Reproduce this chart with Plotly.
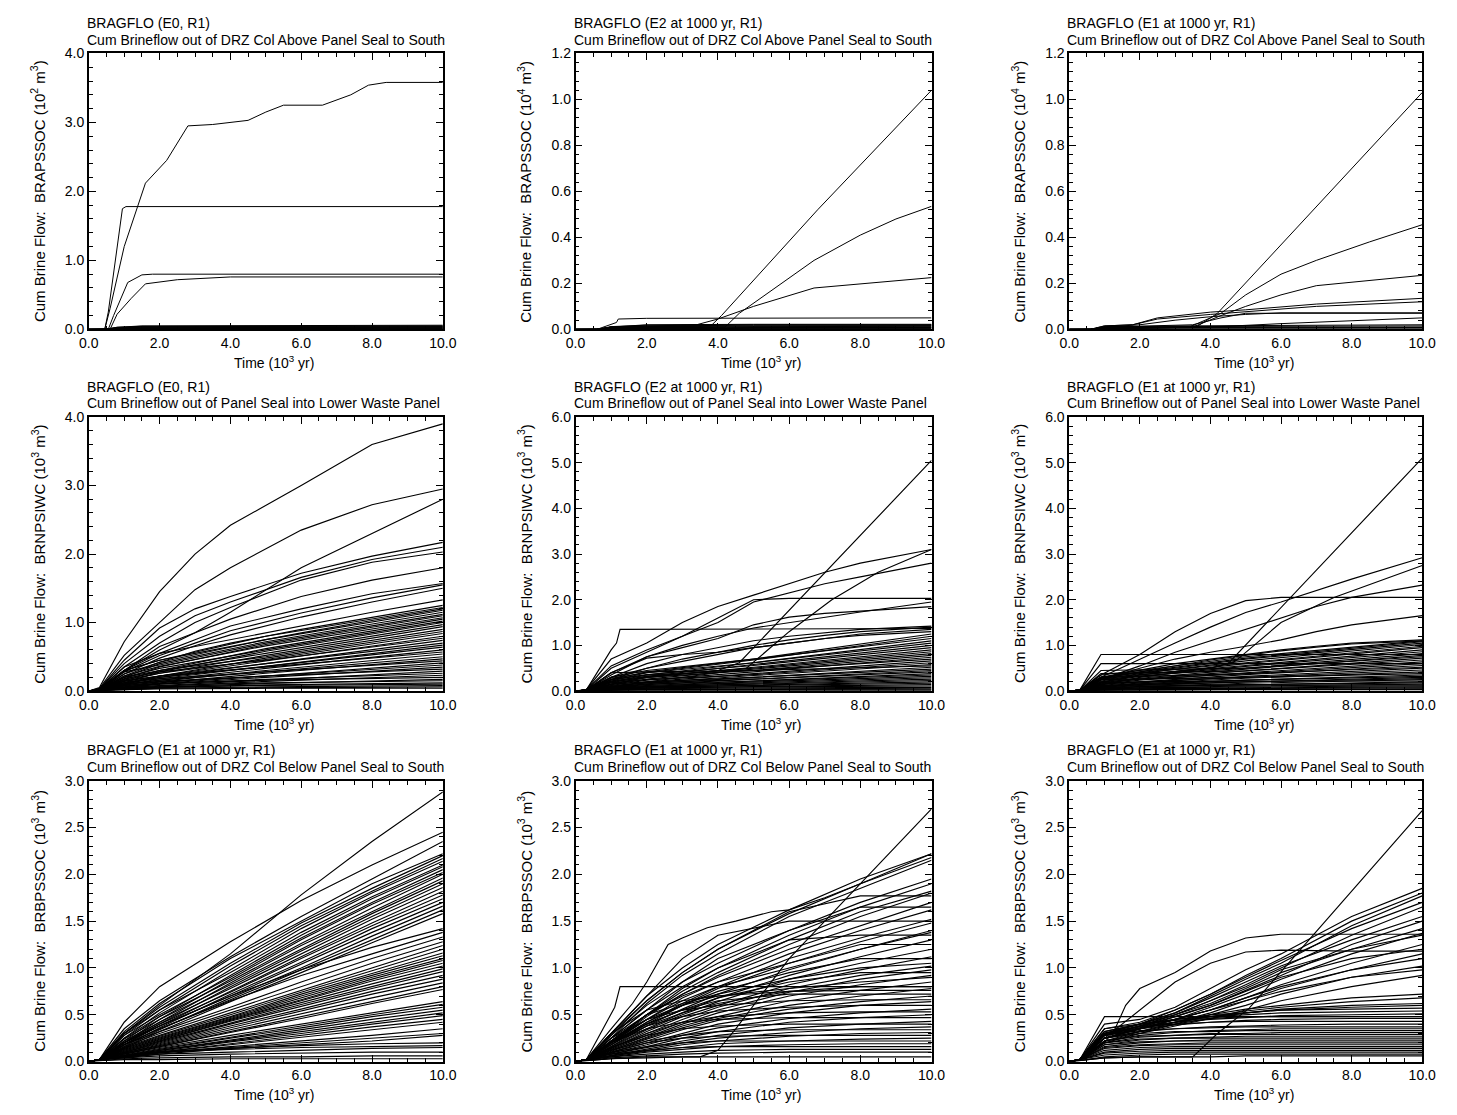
import plotly.graph_objects as go

# Reference page size; the browser keeps an 8px body margin, so the figure is 16px smaller.
PAGE_W, PAGE_H = 1457, 1115
MARGIN = 8
W, H = PAGE_W - 2 * MARGIN, PAGE_H - 2 * MARGIN

# ---------------- DATA ----------------
X_TICKS = [0, 2, 4, 6, 8, 10]

# Panel 1: E0, DRZ col above panel seal (10^2 m^3)
P1_A_T = [0, 0.45, 0.6, 1.0, 1.6, 2.2, 2.8, 3.5, 4.5, 5.0, 5.5, 6.6, 7.4, 7.9, 8.4, 10]
P1_A_V = [0, 0, 0.3, 1.2, 2.12, 2.45, 2.95, 2.97, 3.03, 3.15, 3.25, 3.25, 3.4, 3.54, 3.58, 3.58]
P1_B_T = [0, 0.45, 0.55, 0.95, 1.05, 10]
P1_B_V = [0, 0, 0.25, 1.75, 1.78, 1.78]
P1_C_T = [0, 0.55, 0.7, 1.1, 1.5, 1.8, 10]
P1_C_V = [0, 0, 0.2, 0.68, 0.79, 0.8, 0.8]
P1_D_T = [0, 0.6, 0.8, 1.2, 1.6, 2.5, 4, 10]
P1_D_V = [0, 0, 0.22, 0.45, 0.66, 0.72, 0.76, 0.76]
P1_LOW_T = [0, 0.45, 0.8, 1.5, 10]
P1_LOW = [
    [0, 0, 0.03, 0.05, 0.06], [0, 0, 0.03, 0.045, 0.05], [0, 0, 0.02, 0.04, 0.045],
    [0, 0, 0.02, 0.03, 0.04], [0, 0, 0.015, 0.025, 0.03], [0, 0, 0.01, 0.02, 0.025],
    [0, 0, 0.01, 0.015, 0.02], [0, 0, 0.005, 0.01, 0.015], [0, 0, 0.005, 0.008, 0.01],
    [0, 0, 0.003, 0.005, 0.005],
]

# Panel 2: E2, DRZ col above panel seal (10^4 m^3)
P2_A_T = [0, 0.6, 1.0, 3.8, 4.1, 6.8, 10]
P2_A_V = [0, 0, 0.01, 0.015, 0.06, 0.52, 1.04]
P2_B_T = [0, 0.6, 1, 4.2, 4.6, 6.7, 8, 9, 10]
P2_B_V = [0, 0, 0.005, 0.01, 0.07, 0.3, 0.41, 0.48, 0.535]
P2_C_T = [0, 0.6, 1, 3.4, 4, 5, 6.7, 10]
P2_C_V = [0, 0, 0.01, 0.02, 0.045, 0.1, 0.18, 0.225]
P2_D_T = [0, 0.6, 1.15, 1.2, 2, 10]
P2_D_V = [0, 0, 0.03, 0.045, 0.048, 0.05]
P2_LOW_T = [0, 0.6, 1.0, 2.0, 5.0, 10]
P2_LOW = [
    [0, 0, 0.01, 0.02, 0.022, 0.022], [0, 0, 0.012, 0.018, 0.02, 0.02],
    [0, 0, 0.008, 0.015, 0.018, 0.018], [0, 0, 0.01, 0.012, 0.015, 0.016],
    [0, 0, 0.006, 0.01, 0.012, 0.013], [0, 0, 0.005, 0.008, 0.01, 0.01],
    [0, 0, 0.004, 0.006, 0.008, 0.008], [0, 0, 0.003, 0.004, 0.005, 0.006],
    [0, 0, 0.002, 0.003, 0.004, 0.004],
]

# Panel 3: E1, DRZ col above panel seal (10^4 m^3)
P3_A_T = [0, 0.6, 1, 3.6, 4.2, 10]
P3_A_V = [0, 0, 0.01, 0.01, 0.07, 1.03]
P3_B_T = [0, 0.6, 1, 3.4, 4.3, 5, 6, 7, 8.5, 10]
P3_B_V = [0, 0, 0.01, 0.01, 0.07, 0.15, 0.24, 0.3, 0.38, 0.455]
P3_C_T = [0, 0.6, 1, 3.5, 4.3, 5, 6, 7, 10]
P3_C_V = [0, 0, 0.01, 0.01, 0.06, 0.1, 0.15, 0.19, 0.235]
P3_D_T = [0, 0.6, 1, 1.8, 2.5, 4, 5, 7, 10]
P3_D_V = [0, 0, 0.015, 0.02, 0.05, 0.075, 0.085, 0.11, 0.135]
P3_E_T = [0, 0.6, 1, 1.8, 2.5, 4, 7, 10]
P3_E_V = [0, 0, 0.015, 0.02, 0.045, 0.065, 0.1, 0.12]
P3_F_T = [0, 0.6, 1, 2, 3, 4, 5, 6, 10]
P3_F_V = [0, 0, 0.01, 0.02, 0.04, 0.055, 0.065, 0.072, 0.072]
P3_G_T = [0, 0.6, 1, 2, 3.5, 4.3, 5, 10]
P3_G_V = [0, 0, 0.01, 0.015, 0.02, 0.05, 0.07, 0.07]
P3_H_T = [0, 0.6, 1, 4, 6, 10]
P3_H_V = [0, 0, 0.005, 0.01, 0.025, 0.05]
P3_LOW_T = [0, 0.6, 1, 3, 10]
P3_LOW = [
    [0, 0, 0.01, 0.015, 0.02], [0, 0, 0.005, 0.008, 0.01], [0, 0, 0.003, 0.005, 0.005],
    [0, 0, 0.008, 0.012, 0.015], [0, 0, 0.004, 0.006, 0.008],
]

# Panel 4: E0, panel seal into lower waste panel (10^3 m^3)
P4_UP_T = [0, 0.3, 1, 2, 3, 4, 6, 8, 10]
P4_UP = [
    [0, 0.05, 0.72, 1.45, 2.0, 2.42, 3.0, 3.6, 3.9],
    [0, 0.04, 0.52, 1.0, 1.48, 1.8, 2.35, 2.72, 2.95],
    [0, 0.03, 0.30, 0.60, 0.85, 1.15, 1.8, 2.3, 2.8],
    [0, 0.03, 0.45, 0.92, 1.2, 1.38, 1.72, 1.97, 2.17],
    [0, 0.03, 0.40, 0.80, 1.1, 1.30, 1.66, 1.92, 2.10],
    [0, 0.03, 0.35, 0.70, 1.0, 1.22, 1.62, 1.88, 2.03],
    [0, 0.03, 0.30, 0.65, 0.85, 1.05, 1.38, 1.62, 1.80],
    [0, 0.02, 0.30, 0.55, 0.75, 0.95, 1.2, 1.42, 1.57],
    [0, 0.02, 0.28, 0.52, 0.70, 0.88, 1.14, 1.36, 1.55],
    [0, 0.02, 0.25, 0.48, 0.66, 0.82, 1.08, 1.30, 1.50],
    [0, 0.02, 0.35, 0.55, 0.65, 0.75, 0.95, 1.15, 1.33],
    [0, 0.02, 0.22, 0.42, 0.58, 0.70, 0.90, 1.08, 1.25],
    [0, 0.02, 0.30, 0.45, 0.55, 0.65, 0.85, 1.03, 1.20],
]
P4_DN_T = [0, 0.3, 1, 2, 5, 10]
P4_DN = [
    [0, 0.01, 0.30, 0.45, 0.80, 1.22], [0, 0.01, 0.25, 0.42, 0.75, 1.18],
    [0, 0.01, 0.20, 0.40, 0.72, 1.15], [0, 0.01, 0.28, 0.38, 0.70, 1.12],
    [0, 0.01, 0.18, 0.35, 0.68, 1.10], [0, 0.01, 0.22, 0.36, 0.66, 1.07],
    [0, 0.01, 0.15, 0.30, 0.62, 1.05], [0, 0.01, 0.20, 0.33, 0.60, 1.02],
    [0, 0.01, 0.12, 0.28, 0.58, 1.00], [0, 0.01, 0.17, 0.30, 0.55, 0.97],
    [0, 0.01, 0.14, 0.26, 0.52, 0.94], [0, 0.01, 0.20, 0.30, 0.50, 0.90],
    [0, 0.01, 0.10, 0.22, 0.48, 0.87], [0, 0.01, 0.16, 0.26, 0.46, 0.84],
    [0, 0.01, 0.12, 0.22, 0.44, 0.80], [0, 0.01, 0.18, 0.28, 0.45, 0.77],
    [0, 0.01, 0.10, 0.20, 0.40, 0.74], [0, 0.01, 0.14, 0.22, 0.40, 0.70],
    [0, 0.01, 0.08, 0.18, 0.36, 0.67], [0, 0.01, 0.12, 0.20, 0.36, 0.64],
    [0, 0.01, 0.09, 0.16, 0.33, 0.60], [0, 0.01, 0.15, 0.22, 0.35, 0.57],
    [0, 0.01, 0.07, 0.14, 0.30, 0.54], [0, 0.01, 0.10, 0.16, 0.28, 0.50],
    [0, 0.01, 0.06, 0.12, 0.26, 0.47], [0, 0.01, 0.12, 0.18, 0.28, 0.44],
    [0, 0.01, 0.05, 0.11, 0.22, 0.41], [0, 0.01, 0.08, 0.13, 0.22, 0.38],
    [0, 0.01, 0.05, 0.10, 0.20, 0.35], [0, 0.01, 0.10, 0.14, 0.22, 0.32],
    [0, 0.01, 0.04, 0.08, 0.16, 0.29], [0, 0.01, 0.06, 0.10, 0.17, 0.26],
    [0, 0.01, 0.04, 0.07, 0.14, 0.23], [0, 0.01, 0.08, 0.11, 0.16, 0.20],
    [0, 0.01, 0.03, 0.06, 0.11, 0.17], [0, 0.01, 0.05, 0.08, 0.12, 0.15],
    [0, 0.01, 0.03, 0.05, 0.09, 0.12], [0, 0.01, 0.04, 0.06, 0.08, 0.10],
    [0, 0.01, 0.02, 0.04, 0.06, 0.08], [0, 0.01, 0.03, 0.04, 0.05, 0.06],
    [0, 0.01, 0.02, 0.03, 0.04, 0.04],
]

# Panel 5: E2, panel seal into lower waste panel (10^3 m^3)
P5_STEEP1_T = [0, 0.3, 1, 2, 4, 4.6, 10]
P5_STEEP1_V = [0, 0.02, 0.15, 0.3, 0.45, 0.62, 5.05]
P5_STEEP2_T = [0, 0.3, 1, 2, 4, 4.8, 6, 7.2, 8.5, 10]
P5_STEEP2_V = [0, 0.01, 0.1, 0.2, 0.4, 0.5, 1.3, 2.0, 2.6, 3.1]
P5_STEP_T = [0, 0.3, 1.0, 1.15, 1.25, 10]
P5_STEP_V = [0, 0.02, 0.9, 1.05, 1.35, 1.37]
P5_UP_T = [0, 0.3, 1, 2, 3, 4, 5, 6, 7, 8, 10]
P5_UP = [
    [0, 0.03, 0.7, 1.05, 1.5, 1.85, 2.1, 2.35, 2.6, 2.8, 3.1],
    [0, 0.03, 0.55, 0.9, 1.2, 1.5, 1.95, 2.15, 2.35, 2.5, 2.8],
    [0, 0.02, 0.5, 0.85, 1.2, 1.6, 2.0, 2.03, 2.03, 2.03, 2.03],
    [0, 0.02, 0.4, 0.75, 1.0, 1.2, 1.38, 1.5, 1.62, 1.73, 1.95],
    [0, 0.02, 0.35, 0.75, 0.95, 1.15, 1.45, 1.62, 1.7, 1.75, 1.85],
    [0, 0.02, 0.3, 0.6, 0.8, 0.95, 1.1, 1.2, 1.28, 1.35, 1.42],
    [0, 0.02, 0.25, 0.5, 0.7, 0.85, 1.0, 1.12, 1.22, 1.3, 1.4],
    [0, 0.02, 0.4, 0.72, 0.8, 0.85, 0.95, 1.05, 1.15, 1.25, 1.35],
    [0, 0.02, 0.3, 0.5, 0.65, 0.8, 0.95, 1.05, 1.15, 1.22, 1.3],
]
P5_DN_T = [0, 0.3, 1, 2, 5, 10]
P5_DN = [
    [0, 0.02, 0.25, 0.42, 0.7, 1.25], [0, 0.02, 0.22, 0.40, 0.68, 1.2],
    [0, 0.02, 0.3, 0.45, 0.7, 1.15], [0, 0.02, 0.2, 0.35, 0.62, 1.1],
    [0, 0.02, 0.28, 0.4, 0.62, 1.05], [0, 0.01, 0.18, 0.32, 0.58, 1.0],
    [0, 0.01, 0.25, 0.36, 0.56, 0.95], [0, 0.01, 0.15, 0.3, 0.52, 0.9],
    [0, 0.01, 0.22, 0.32, 0.5, 0.86], [0, 0.01, 0.14, 0.26, 0.48, 0.82],
    [0, 0.01, 0.2, 0.3, 0.45, 0.78], [0, 0.01, 0.12, 0.24, 0.42, 0.74],
    [0, 0.01, 0.25, 0.35, 0.45, 0.7], [0, 0.01, 0.1, 0.2, 0.38, 0.66],
    [0, 0.01, 0.18, 0.25, 0.36, 0.62], [0, 0.01, 0.1, 0.18, 0.34, 0.58],
    [0, 0.01, 0.4, 0.42, 0.45, 0.55], [0, 0.01, 0.08, 0.16, 0.3, 0.52],
    [0, 0.01, 0.15, 0.2, 0.3, 0.48], [0, 0.01, 0.08, 0.14, 0.26, 0.45],
    [0, 0.01, 0.12, 0.18, 0.26, 0.42], [0, 0.01, 0.06, 0.12, 0.22, 0.38],
    [0, 0.01, 0.1, 0.15, 0.22, 0.35], [0, 0.01, 0.05, 0.1, 0.2, 0.32],
    [0, 0.01, 0.08, 0.12, 0.18, 0.29], [0, 0.01, 0.05, 0.09, 0.16, 0.26],
    [0, 0.01, 0.07, 0.1, 0.15, 0.23], [0, 0.01, 0.04, 0.07, 0.13, 0.2],
    [0, 0.01, 0.06, 0.09, 0.12, 0.17], [0, 0.01, 0.03, 0.06, 0.1, 0.14],
    [0, 0.01, 0.05, 0.07, 0.09, 0.11], [0, 0.01, 0.03, 0.05, 0.07, 0.08],
    [0, 0.01, 0.02, 0.04, 0.05, 0.06], [0, 0.01, 0.02, 0.03, 0.03, 0.04],
    [0, 0.01, 0.02, 0.02, 0.02, 0.02],
]

# Panel 6: E1, panel seal into lower waste panel (10^3 m^3)
P6_STEEP1_T = [0, 0.3, 1, 2, 4, 4.5, 10]
P6_STEEP1_V = [0, 0.02, 0.2, 0.35, 0.5, 0.6, 5.1]
P6_STEEP2_T = [0, 0.3, 1, 2, 4, 4.7, 6, 7.5, 10]
P6_STEEP2_V = [0, 0.01, 0.15, 0.3, 0.5, 0.65, 1.5, 2.05, 2.75]
P6_UP_T = [0, 0.3, 0.9, 2, 3, 4, 5, 6, 7, 8, 10]
P6_UP = [
    [0, 0.02, 0.35, 0.8, 1.3, 1.7, 1.98, 2.05, 2.05, 2.05, 2.05],
    [0, 0.02, 0.3, 0.7, 1.05, 1.4, 1.72, 1.95, 2.2, 2.45, 2.92],
    [0, 0.02, 0.25, 0.55, 0.85, 1.1, 1.35, 1.6, 1.85, 2.05, 2.32],
    [0, 0.02, 0.25, 0.5, 0.7, 0.85, 0.98, 1.12, 1.3, 1.45, 1.65],
    [0, 0.02, 0.8, 0.8, 0.8, 0.8, 0.8, 0.8, 0.8, 0.8, 0.8],
    [0, 0.02, 0.6, 0.6, 0.6, 0.6, 0.6, 0.6, 0.6, 0.6, 0.6],
    [0, 0.02, 0.3, 0.45, 0.6, 0.7, 0.8, 0.9, 0.98, 1.05, 1.12],
    [0, 0.02, 0.28, 0.42, 0.56, 0.68, 0.78, 0.88, 0.96, 1.03, 1.1],
]
P6_DN_T = [0, 0.3, 0.9, 2, 5, 10]
P6_DN = [
    [0, 0.02, 0.35, 0.45, 0.75, 1.1], [0, 0.02, 0.3, 0.42, 0.72, 1.08],
    [0, 0.02, 0.28, 0.4, 0.7, 1.05], [0, 0.02, 0.25, 0.38, 0.66, 1.02],
    [0, 0.02, 0.3, 0.4, 0.62, 0.98], [0, 0.02, 0.22, 0.35, 0.6, 0.95],
    [0, 0.01, 0.28, 0.36, 0.56, 0.9], [0, 0.01, 0.2, 0.32, 0.54, 0.86],
    [0, 0.01, 0.25, 0.33, 0.5, 0.82], [0, 0.01, 0.18, 0.28, 0.48, 0.78],
    [0, 0.01, 0.45, 0.46, 0.5, 0.75], [0, 0.01, 0.16, 0.26, 0.44, 0.72],
    [0, 0.01, 0.38, 0.4, 0.44, 0.68], [0, 0.01, 0.14, 0.24, 0.4, 0.64],
    [0, 0.01, 0.2, 0.26, 0.38, 0.6], [0, 0.01, 0.12, 0.2, 0.36, 0.56],
    [0, 0.01, 0.3, 0.32, 0.38, 0.52], [0, 0.01, 0.1, 0.18, 0.32, 0.5],
    [0, 0.01, 0.15, 0.2, 0.3, 0.46], [0, 0.01, 0.09, 0.16, 0.28, 0.42],
    [0, 0.01, 0.25, 0.26, 0.3, 0.38], [0, 0.01, 0.08, 0.14, 0.24, 0.35],
    [0, 0.01, 0.12, 0.16, 0.24, 0.32], [0, 0.01, 0.07, 0.12, 0.2, 0.3],
    [0, 0.01, 0.1, 0.14, 0.2, 0.27], [0, 0.01, 0.06, 0.1, 0.17, 0.25],
    [0, 0.01, 0.18, 0.2, 0.22, 0.22], [0, 0.01, 0.05, 0.09, 0.14, 0.2],
    [0, 0.01, 0.08, 0.1, 0.14, 0.18], [0, 0.01, 0.04, 0.07, 0.11, 0.15],
    [0, 0.01, 0.12, 0.13, 0.13, 0.13], [0, 0.01, 0.05, 0.07, 0.09, 0.11],
    [0, 0.01, 0.03, 0.05, 0.07, 0.09], [0, 0.01, 0.04, 0.05, 0.06, 0.07],
    [0, 0.01, 0.02, 0.03, 0.04, 0.05], [0, 0.01, 0.02, 0.02, 0.03, 0.03],
]

# Panel 7: E1, DRZ col below panel seal (10^3 m^3)
P7_T = [0, 0.3, 1, 2, 4, 6, 8, 10]
P7 = [
    [0, 0.02, 0.42, 0.8, 1.28, 1.72, 2.1, 2.45], [0, 0.02, 0.3, 0.6, 1.15, 1.78, 2.35, 2.88],
    [0, 0.02, 0.35, 0.65, 1.12, 1.55, 1.95, 2.35], [0, 0.02, 0.32, 0.62, 1.1, 1.5, 1.9, 2.22],
    [0, 0.02, 0.3, 0.58, 1.05, 1.48, 1.85, 2.2], [0, 0.02, 0.28, 0.55, 1.02, 1.45, 1.82, 2.17],
    [0, 0.02, 0.25, 0.52, 0.98, 1.42, 1.8, 2.14], [0, 0.02, 0.3, 0.55, 0.95, 1.38, 1.76, 2.1],
    [0, 0.02, 0.22, 0.48, 0.92, 1.35, 1.74, 2.08], [0, 0.02, 0.28, 0.5, 0.9, 1.32, 1.7, 2.05],
    [0, 0.02, 0.2, 0.45, 0.88, 1.3, 1.68, 2.02], [0, 0.02, 0.25, 0.48, 0.86, 1.26, 1.64, 2.0],
    [0, 0.02, 0.2, 0.42, 0.84, 1.24, 1.6, 1.96], [0, 0.02, 0.24, 0.45, 0.82, 1.2, 1.58, 1.93],
    [0, 0.02, 0.18, 0.4, 0.8, 1.18, 1.55, 1.9], [0, 0.02, 0.22, 0.42, 0.78, 1.15, 1.52, 1.86],
    [0, 0.02, 0.18, 0.38, 0.75, 1.12, 1.48, 1.82], [0, 0.02, 0.2, 0.4, 0.74, 1.1, 1.45, 1.78],
    [0, 0.02, 0.16, 0.36, 0.72, 1.06, 1.42, 1.74], [0, 0.02, 0.2, 0.38, 0.7, 1.04, 1.38, 1.7],
    [0, 0.02, 0.15, 0.34, 0.68, 1.0, 1.34, 1.66], [0, 0.02, 0.18, 0.35, 0.66, 0.98, 1.3, 1.62],
    [0, 0.02, 0.14, 0.32, 0.64, 0.95, 1.27, 1.58], [0, 0.02, 0.2, 0.38, 0.7, 0.98, 1.22, 1.42],
    [0, 0.02, 0.18, 0.35, 0.65, 0.92, 1.15, 1.38], [0, 0.02, 0.18, 0.32, 0.58, 0.85, 1.1, 1.33],
    [0, 0.02, 0.16, 0.3, 0.55, 0.8, 1.05, 1.28], [0, 0.02, 0.15, 0.28, 0.52, 0.76, 1.0, 1.24],
    [0, 0.02, 0.14, 0.27, 0.5, 0.74, 0.97, 1.2], [0, 0.02, 0.14, 0.26, 0.48, 0.72, 0.94, 1.16],
    [0, 0.02, 0.13, 0.25, 0.47, 0.7, 0.92, 1.13], [0, 0.02, 0.12, 0.24, 0.46, 0.68, 0.9, 1.1],
    [0, 0.02, 0.12, 0.23, 0.45, 0.66, 0.88, 1.08], [0, 0.02, 0.11, 0.22, 0.44, 0.65, 0.86, 1.05],
    [0, 0.02, 0.11, 0.22, 0.43, 0.63, 0.83, 1.02], [0, 0.02, 0.1, 0.21, 0.41, 0.61, 0.8, 0.99],
    [0, 0.02, 0.1, 0.2, 0.4, 0.59, 0.78, 0.96], [0, 0.02, 0.1, 0.19, 0.38, 0.56, 0.75, 0.92],
    [0, 0.02, 0.09, 0.18, 0.36, 0.54, 0.72, 0.88], [0, 0.02, 0.09, 0.17, 0.34, 0.51, 0.68, 0.84],
    [0, 0.02, 0.08, 0.16, 0.32, 0.48, 0.64, 0.8], [0, 0.02, 0.08, 0.16, 0.31, 0.46, 0.62, 0.77],
    [0, 0.02, 0.08, 0.15, 0.28, 0.4, 0.52, 0.64], [0, 0.02, 0.07, 0.14, 0.26, 0.38, 0.5, 0.61],
    [0, 0.02, 0.07, 0.13, 0.25, 0.36, 0.48, 0.58], [0, 0.02, 0.06, 0.12, 0.23, 0.34, 0.45, 0.55],
    [0, 0.02, 0.06, 0.12, 0.22, 0.32, 0.42, 0.52], [0, 0.02, 0.06, 0.11, 0.21, 0.3, 0.4, 0.49],
    [0, 0.02, 0.05, 0.1, 0.19, 0.28, 0.37, 0.45], [0, 0.02, 0.05, 0.1, 0.18, 0.26, 0.34, 0.42],
    [0, 0.02, 0.05, 0.09, 0.16, 0.22, 0.28, 0.35], [0, 0.02, 0.05, 0.1, 0.15, 0.2, 0.25, 0.3],
    [0, 0.02, 0.04, 0.08, 0.14, 0.18, 0.22, 0.28], [0, 0.02, 0.06, 0.1, 0.14, 0.17, 0.19, 0.2],
    [0, 0.02, 0.06, 0.1, 0.13, 0.15, 0.16, 0.17], [0, 0.02, 0.05, 0.08, 0.1, 0.12, 0.14, 0.15],
    [0, 0.02, 0.04, 0.06, 0.08, 0.09, 0.1, 0.1], [0, 0.01, 0.03, 0.04, 0.05, 0.05, 0.06, 0.06],
    [0, 0.01, 0.02, 0.02, 0.03, 0.03, 0.03, 0.03],
]

# Panel 8: E1, DRZ col below panel seal (10^3 m^3)
P8_HUMP_T = [0, 0.3, 1, 1.6, 2, 2.6, 3, 3.7, 4.5, 5.5, 6, 7, 8, 10]
P8_HUMP_V = [0, 0.02, 0.35, 0.62, 0.85, 1.25, 1.32, 1.43, 1.5, 1.6, 1.62, 1.75, 1.9, 2.22]
P8_STEP_T = [0, 0.3, 1.1, 1.25, 10]
P8_STEP_V = [0, 0.02, 0.58, 0.8, 0.8]
P8_LATE_T = [0, 0.3, 1, 2, 3.5, 4, 4.5, 6, 8, 10]
P8_LATE_V = [0, 0.01, 0.03, 0.05, 0.05, 0.12, 0.35, 1.1, 1.9, 2.7]
P8_T = [0, 0.3, 1, 2, 3, 4, 6, 8, 10]
P8 = [
    [0, 0.02, 0.3, 0.7, 1.0, 1.25, 1.62, 1.95, 2.22], [0, 0.02, 0.28, 0.65, 0.95, 1.2, 1.58, 1.9, 2.18],
    [0, 0.02, 0.25, 0.62, 0.92, 1.15, 1.55, 1.85, 2.15], [0, 0.02, 0.3, 0.7, 1.1, 1.35, 1.5, 1.5, 1.5],
    [0, 0.02, 0.28, 0.6, 0.85, 1.05, 1.4, 1.7, 1.95], [0, 0.02, 0.25, 0.55, 0.8, 1.0, 1.35, 1.65, 1.9],
    [0, 0.02, 0.3, 0.65, 0.95, 1.2, 1.6, 1.77, 1.77], [0, 0.02, 0.22, 0.5, 0.75, 0.95, 1.3, 1.6, 1.82],
    [0, 0.02, 0.2, 0.48, 0.72, 0.92, 1.25, 1.55, 1.8], [0, 0.02, 0.25, 0.55, 0.85, 1.1, 1.4, 1.65, 1.65],
    [0, 0.02, 0.22, 0.5, 0.72, 0.9, 1.2, 1.45, 1.7], [0, 0.02, 0.2, 0.45, 0.68, 0.85, 1.15, 1.4, 1.62],
    [0, 0.02, 0.2, 0.5, 0.78, 1.0, 1.3, 1.35, 1.35], [0, 0.02, 0.18, 0.42, 0.62, 0.8, 1.1, 1.32, 1.52],
    [0, 0.02, 0.18, 0.4, 0.6, 0.78, 1.05, 1.28, 1.48], [0, 0.02, 0.2, 0.45, 0.65, 0.8, 1.0, 1.2, 1.4],
    [0, 0.02, 0.16, 0.38, 0.56, 0.72, 0.98, 1.2, 1.38], [0, 0.02, 0.22, 0.5, 0.7, 0.85, 1.05, 1.25, 1.25],
    [0, 0.02, 0.16, 0.35, 0.52, 0.68, 0.92, 1.12, 1.3], [0, 0.02, 0.15, 0.34, 0.5, 0.64, 0.88, 1.05, 1.2],
    [0, 0.02, 0.2, 0.42, 0.6, 0.75, 0.95, 1.1, 1.1], [0, 0.02, 0.14, 0.32, 0.48, 0.6, 0.82, 0.98, 1.12],
    [0, 0.02, 0.25, 0.5, 0.62, 0.72, 0.88, 1.0, 1.05], [0, 0.02, 0.14, 0.3, 0.45, 0.58, 0.78, 0.92, 1.02],
    [0, 0.02, 0.2, 0.4, 0.55, 0.68, 0.85, 0.95, 0.95], [0, 0.02, 0.13, 0.28, 0.42, 0.55, 0.74, 0.88, 0.98],
    [0, 0.02, 0.22, 0.45, 0.6, 0.7, 0.78, 0.85, 0.9], [0, 0.02, 0.12, 0.26, 0.4, 0.52, 0.7, 0.82, 0.92],
    [0, 0.02, 0.18, 0.38, 0.52, 0.62, 0.75, 0.8, 0.8], [0, 0.02, 0.12, 0.25, 0.38, 0.48, 0.65, 0.76, 0.85],
    [0, 0.02, 0.3, 0.55, 0.65, 0.7, 0.75, 0.76, 0.76], [0, 0.02, 0.11, 0.24, 0.36, 0.46, 0.6, 0.7, 0.78],
    [0, 0.02, 0.2, 0.4, 0.55, 0.65, 0.72, 0.72, 0.72], [0, 0.02, 0.1, 0.22, 0.34, 0.44, 0.56, 0.64, 0.7],
    [0, 0.02, 0.25, 0.45, 0.55, 0.6, 0.65, 0.66, 0.66], [0, 0.02, 0.1, 0.2, 0.3, 0.4, 0.52, 0.6, 0.64],
    [0, 0.02, 0.2, 0.38, 0.48, 0.54, 0.58, 0.6, 0.6], [0, 0.02, 0.09, 0.18, 0.28, 0.36, 0.46, 0.52, 0.56],
    [0, 0.02, 0.15, 0.3, 0.42, 0.48, 0.52, 0.53, 0.53], [0, 0.02, 0.08, 0.16, 0.25, 0.32, 0.42, 0.47, 0.5],
    [0, 0.02, 0.2, 0.35, 0.42, 0.45, 0.47, 0.47, 0.47], [0, 0.02, 0.08, 0.15, 0.22, 0.28, 0.36, 0.4, 0.43],
    [0, 0.02, 0.15, 0.28, 0.35, 0.38, 0.4, 0.4, 0.4], [0, 0.02, 0.07, 0.14, 0.2, 0.25, 0.31, 0.35, 0.37],
    [0, 0.02, 0.12, 0.22, 0.28, 0.32, 0.34, 0.34, 0.34], [0, 0.02, 0.06, 0.12, 0.18, 0.22, 0.27, 0.3, 0.31],
    [0, 0.02, 0.1, 0.2, 0.25, 0.27, 0.28, 0.28, 0.28], [0, 0.02, 0.06, 0.11, 0.15, 0.19, 0.22, 0.24, 0.25],
    [0, 0.02, 0.1, 0.16, 0.2, 0.22, 0.22, 0.22, 0.22], [0, 0.02, 0.05, 0.1, 0.13, 0.16, 0.18, 0.19, 0.19],
    [0, 0.02, 0.08, 0.12, 0.15, 0.16, 0.16, 0.16, 0.16], [0, 0.02, 0.05, 0.08, 0.1, 0.12, 0.13, 0.13, 0.13],
    [0, 0.01, 0.04, 0.06, 0.08, 0.09, 0.1, 0.1, 0.1], [0, 0.01, 0.03, 0.04, 0.05, 0.05, 0.05, 0.05, 0.05],
]

# Panel 9: E1, DRZ col below panel seal (10^3 m^3)
P9_LATE_T = [0, 0.3, 1, 2, 3.5, 4.2, 5.1, 10]
P9_LATE_V = [0, 0.01, 0.04, 0.05, 0.05, 0.3, 0.57, 2.68]
P9_HUMP_T = [0, 0.3, 1, 1.3, 1.6, 2, 3, 4, 5, 6, 8, 10]
P9_HUMP_V = [0, 0.02, 0.2, 0.35, 0.6, 0.78, 0.95, 1.18, 1.32, 1.36, 1.36, 1.36]
P9_T = [0, 0.3, 1, 2, 3, 4, 5, 6, 8, 10]
P9 = [
    [0, 0.02, 0.25, 0.55, 0.85, 1.05, 1.17, 1.19, 1.18, 1.18],
    [0, 0.02, 0.48, 0.48, 0.48, 0.48, 0.48, 0.48, 0.48, 0.48],
    [0, 0.02, 0.4, 0.45, 0.58, 0.78, 0.98, 1.15, 1.55, 1.85],
    [0, 0.02, 0.35, 0.42, 0.55, 0.72, 0.92, 1.1, 1.5, 1.8],
    [0, 0.02, 0.32, 0.4, 0.52, 0.7, 0.88, 1.05, 1.45, 1.77],
    [0, 0.02, 0.3, 0.4, 0.55, 0.72, 0.9, 1.08, 1.42, 1.7],
    [0, 0.02, 0.28, 0.38, 0.5, 0.65, 0.82, 1.0, 1.35, 1.65],
    [0, 0.02, 0.3, 0.4, 0.52, 0.68, 0.85, 1.02, 1.3, 1.55],
    [0, 0.02, 0.25, 0.36, 0.48, 0.6, 0.76, 0.92, 1.25, 1.5],
    [0, 0.02, 0.28, 0.38, 0.5, 0.62, 0.78, 0.95, 1.2, 1.42],
    [0, 0.02, 0.25, 0.35, 0.45, 0.58, 0.72, 0.88, 1.15, 1.37],
    [0, 0.02, 0.3, 0.4, 0.5, 0.65, 0.8, 0.98, 1.2, 1.35],
    [0, 0.02, 0.25, 0.35, 0.45, 0.55, 0.68, 0.82, 1.05, 1.25],
    [0, 0.02, 0.28, 0.38, 0.48, 0.6, 0.75, 0.9, 1.1, 1.2],
    [0, 0.02, 0.22, 0.32, 0.42, 0.52, 0.65, 0.78, 0.98, 1.15],
    [0, 0.02, 0.25, 0.35, 0.45, 0.55, 0.68, 0.8, 0.98, 1.1],
    [0, 0.02, 0.22, 0.3, 0.4, 0.5, 0.6, 0.72, 0.9, 1.02],
    [0, 0.02, 0.25, 0.35, 0.45, 0.55, 0.65, 0.75, 0.9, 0.98],
    [0, 0.02, 0.2, 0.3, 0.38, 0.46, 0.55, 0.65, 0.8, 0.92],
    [0, 0.02, 0.3, 0.35, 0.42, 0.5, 0.56, 0.6, 0.68, 0.72],
    [0, 0.02, 0.28, 0.35, 0.42, 0.48, 0.54, 0.58, 0.64, 0.68],
    [0, 0.02, 0.25, 0.32, 0.4, 0.46, 0.52, 0.56, 0.6, 0.62],
    [0, 0.02, 0.3, 0.36, 0.42, 0.48, 0.52, 0.55, 0.58, 0.6],
    [0, 0.02, 0.28, 0.38, 0.45, 0.5, 0.52, 0.55, 0.56, 0.57],
    [0, 0.02, 0.35, 0.4, 0.45, 0.48, 0.5, 0.52, 0.53, 0.54],
    [0, 0.02, 0.3, 0.38, 0.42, 0.45, 0.47, 0.49, 0.5, 0.51],
    [0, 0.02, 0.32, 0.4, 0.44, 0.46, 0.48, 0.48, 0.48, 0.48],
    [0, 0.02, 0.28, 0.35, 0.39, 0.42, 0.44, 0.45, 0.46, 0.46],
    [0, 0.02, 0.3, 0.37, 0.4, 0.42, 0.43, 0.43, 0.43, 0.43],
    [0, 0.02, 0.25, 0.32, 0.35, 0.37, 0.38, 0.39, 0.4, 0.4],
    [0, 0.02, 0.28, 0.33, 0.35, 0.36, 0.37, 0.37, 0.37, 0.37],
    [0, 0.02, 0.22, 0.28, 0.31, 0.33, 0.34, 0.35, 0.35, 0.35],
    [0, 0.02, 0.25, 0.3, 0.32, 0.32, 0.33, 0.33, 0.33, 0.33],
    [0, 0.02, 0.2, 0.26, 0.28, 0.3, 0.3, 0.31, 0.31, 0.31],
    [0, 0.02, 0.22, 0.27, 0.28, 0.29, 0.29, 0.29, 0.29, 0.29],
    [0, 0.02, 0.18, 0.23, 0.25, 0.26, 0.27, 0.27, 0.27, 0.27],
    [0, 0.02, 0.2, 0.24, 0.25, 0.25, 0.25, 0.25, 0.25, 0.25],
    [0, 0.02, 0.16, 0.2, 0.22, 0.23, 0.23, 0.23, 0.23, 0.23],
    [0, 0.02, 0.18, 0.21, 0.22, 0.22, 0.22, 0.22, 0.22, 0.22],
    [0, 0.02, 0.15, 0.18, 0.19, 0.2, 0.2, 0.2, 0.2, 0.2],
    [0, 0.02, 0.14, 0.17, 0.18, 0.18, 0.18, 0.18, 0.18, 0.18],
    [0, 0.02, 0.12, 0.15, 0.16, 0.16, 0.16, 0.16, 0.16, 0.16],
    [0, 0.02, 0.1, 0.13, 0.14, 0.14, 0.14, 0.14, 0.14, 0.14],
    [0, 0.02, 0.09, 0.11, 0.12, 0.12, 0.12, 0.12, 0.12, 0.12],
    [0, 0.02, 0.07, 0.09, 0.1, 0.1, 0.1, 0.1, 0.1, 0.1],
    [0, 0.01, 0.05, 0.07, 0.08, 0.08, 0.08, 0.08, 0.08, 0.08],
    [0, 0.01, 0.04, 0.05, 0.05, 0.05, 0.06, 0.06, 0.06, 0.06],
]

TITLES_1 = ["BRAGFLO (E0, R1)", "BRAGFLO (E2 at 1000 yr, R1)", "BRAGFLO (E1 at 1000 yr, R1)",
            "BRAGFLO (E0, R1)", "BRAGFLO (E2 at 1000 yr, R1)", "BRAGFLO (E1 at 1000 yr, R1)",
            "BRAGFLO (E1 at 1000 yr, R1)", "BRAGFLO (E1 at 1000 yr, R1)", "BRAGFLO (E1 at 1000 yr, R1)"]
T_ABOVE = "Cum Brineflow out of DRZ Col Above Panel Seal to South"
T_LOWER = "Cum Brineflow out of Panel Seal into Lower Waste Panel"
T_BELOW = "Cum Brineflow out of DRZ Col Below Panel Seal to South"
TITLES_2 = [T_ABOVE] * 3 + [T_LOWER] * 3 + [T_BELOW] * 3
YT_1 = "Cum Brine Flow:&nbsp; BRAPSSOC (10<sup>2</sup> m<sup>3</sup>)"
YT_2 = "Cum Brine Flow:&nbsp; BRAPSSOC (10<sup>4</sup> m<sup>3</sup>)"
YT_4 = "Cum Brine Flow:&nbsp; BRNPSIWC (10<sup>3</sup> m<sup>3</sup>)"
YT_7 = "Cum Brine Flow:&nbsp; BRBPSSOC (10<sup>3</sup> m<sup>3</sup>)"
Y_TITLES = [YT_1, YT_2, YT_2, YT_4, YT_4, YT_4, YT_7, YT_7, YT_7]
X_TITLE = "Time (10<sup>3</sup> yr)"
Y_MAX = [4.0, 1.2, 1.2, 4.0, 6.0, 6.0, 3.0, 3.0, 3.0]
Y_DTICK = [1.0, 0.2, 0.2, 1.0, 1.0, 1.0, 0.5, 0.5, 0.5]
Y_MINOR = [0.2, 0.04, 0.04, 0.2, 0.2, 0.2, 0.1, 0.1, 0.1]

# ---------------- ASSEMBLY ----------------
def grid(T, rows):
    return [(T, r) for r in rows]

PANELS = [
    [(P1_A_T, P1_A_V), (P1_B_T, P1_B_V), (P1_C_T, P1_C_V), (P1_D_T, P1_D_V)] + grid(P1_LOW_T, P1_LOW),
    [(P2_A_T, P2_A_V), (P2_B_T, P2_B_V), (P2_C_T, P2_C_V), (P2_D_T, P2_D_V)] + grid(P2_LOW_T, P2_LOW),
    [(P3_A_T, P3_A_V), (P3_B_T, P3_B_V), (P3_C_T, P3_C_V), (P3_D_T, P3_D_V), (P3_E_T, P3_E_V),
     (P3_F_T, P3_F_V), (P3_G_T, P3_G_V), (P3_H_T, P3_H_V)] + grid(P3_LOW_T, P3_LOW),
    grid(P4_UP_T, P4_UP) + grid(P4_DN_T, P4_DN),
    [(P5_STEEP1_T, P5_STEEP1_V), (P5_STEEP2_T, P5_STEEP2_V), (P5_STEP_T, P5_STEP_V)]
    + grid(P5_UP_T, P5_UP) + grid(P5_DN_T, P5_DN),
    [(P6_STEEP1_T, P6_STEEP1_V), (P6_STEEP2_T, P6_STEEP2_V)] + grid(P6_UP_T, P6_UP) + grid(P6_DN_T, P6_DN),
    grid(P7_T, P7),
    [(P8_HUMP_T, P8_HUMP_V), (P8_STEP_T, P8_STEP_V), (P8_LATE_T, P8_LATE_V)] + grid(P8_T, P8),
    [(P9_LATE_T, P9_LATE_V), (P9_HUMP_T, P9_HUMP_V)] + grid(P9_T, P9),
]

# plot-area boxes in page pixels
COLS = [(80, 440), (575, 937), (1077, 1436)]
ROWS = [(46, 326), (415, 693), (784, 1069)]
FONT = "Liberation Sans, Arial, Helvetica, sans-serif"
LINE_W = [1.0, 1.0, 1.0, 1.15, 1.15, 1.15, 1.15, 1.15, 1.15]


def fx(px):
    return (px - MARGIN) / W


def fy(py):
    return 1 - (py - MARGIN) / H


fig = go.Figure()
annotations = []
for i in range(9):
    r, c = divmod(i, 3)
    x0, x1 = COLS[c]
    y0, y1 = ROWS[r]
    ax = "" if i == 0 else str(i + 1)
    xs, ys = [], []
    for t, v in PANELS[i]:
        xs += list(t) + [None]
        ys += list(v) + [None]
    fig.add_trace(go.Scatter(x=xs, y=ys, mode="lines", xaxis="x" + ax, yaxis="y" + ax,
                             line=dict(color="black", width=LINE_W[i]), showlegend=False,
                             hoverinfo="skip", connectgaps=False))
    common = dict(showline=True, linecolor="black", linewidth=1.6, mirror="ticks",
                  ticks="inside", ticklen=7, tickwidth=1.2, tickcolor="black",
                  showgrid=False, zeroline=False, tickformat=".1f",
                  tickfont=dict(family=FONT, size=14, color="black"))
    fig.layout["xaxis" + ax] = dict(common, domain=[fx(x0), fx(x1)], anchor="y" + ax,
                                    range=[0, 10], tickvals=X_TICKS,
                                    minor=dict(ticks="inside", ticklen=4, dtick=0.5, tick0=0,
                                               tickcolor="black", tickwidth=1))
    fig.layout["yaxis" + ax] = dict(common, domain=[fy(y1), fy(y0)], anchor="x" + ax,
                                    range=[0, Y_MAX[i]], dtick=Y_DTICK[i], tick0=0,
                                    minor=dict(ticks="inside", ticklen=4, dtick=Y_MINOR[i], tick0=0,
                                               tickcolor="black", tickwidth=1))
    tf = dict(family=FONT, size=14, color="black")
    annotations.append(dict(text=TITLES_1[i], x=fx(x0 - 4), y=fy(y0 - 31), xref="paper", yref="paper",
                            xanchor="left", yanchor="middle", showarrow=False, font=tf))
    annotations.append(dict(text=TITLES_2[i], x=fx(x0 - 4), y=fy(y0 - 14), xref="paper", yref="paper",
                            xanchor="left", yanchor="middle", showarrow=False, font=tf))
    annotations.append(dict(text=Y_TITLES[i], x=fx(x0 - 52), y=fy((y0 + y1) / 2), xref="paper",
                            yref="paper", xanchor="center", yanchor="middle", textangle=-90,
                            showarrow=False, font=dict(family=FONT, size=15, color="black")))
    annotations.append(dict(text=X_TITLE, x=fx((x0 + x1) / 2 + 8), y=fy(y1 + 33), xref="paper",
                            yref="paper", xanchor="center", yanchor="middle", showarrow=False, font=tf))

fig.update_layout(width=W, height=H, margin=dict(l=0, r=0, t=0, b=0),
                  paper_bgcolor="white", plot_bgcolor="white", annotations=annotations,
                  font=dict(family=FONT, color="black"))

fig.write_html("out.html", config={"displayModeBar": False})
